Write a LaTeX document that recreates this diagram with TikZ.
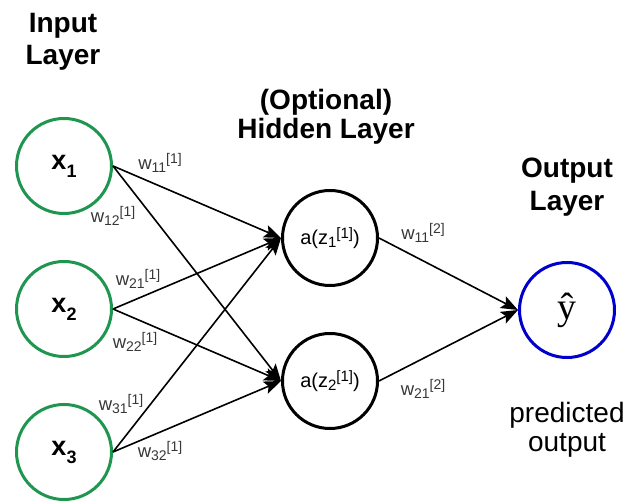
\documentclass[tikz,border=0pt]{standalone}
\usepackage{fontspec}
\setmainfont{Liberation Sans}
\newfontfamily\hatserif{Liberation Serif}
\usetikzlibrary{arrows.meta}
\definecolor{ingreen}{RGB}{30,150,80}
\definecolor{outblue}{RGB}{0,0,204}
\definecolor{wgray}{RGB}{55,55,55}
% weight label: w_{ij}^{[l]}
\newcommand\wlab[2]{w\raisebox{-3.5pt}{\fontsize{14}{14}\selectfont #1}\raisebox{5.5pt}{\fontsize{14}{14}\selectfont [#2]}}
% hidden activation label: a(z_i^{[1]})
\newcommand\alab[1]{a(z\raisebox{-3.5pt}{\fontsize{15}{15}\selectfont #1}\raisebox{6pt}{\fontsize{15}{15}\selectfont [1]})}
% input label: x_i
\newcommand\xlab[1]{x\raisebox{-8pt}{\fontsize{18}{18}\selectfont #1}}
\begin{document}
\begin{tikzpicture}[x=1pt,y=-1pt,
  neuron/.style={circle, minimum size=95pt, inner sep=0pt, line width=3pt, draw},
  inp/.style={neuron, draw=ingreen, font=\bfseries\fontsize{27}{27}\selectfont},
  hid/.style={neuron, draw=black, font=\fontsize{20}{20}\selectfont},
  outn/.style={neuron, draw=outblue, font=\hatserif\fontsize{38}{38}\selectfont},
  conn/.style={line width=1.6pt, -{Stealth[length=17pt,width=13pt,inset=3.5pt]}},
  wt/.style={text=wgray, font=\fontsize{18.5}{18.5}\selectfont, inner sep=0pt},
  title/.style={font=\bfseries\fontsize{28}{28}\selectfont, anchor=base, inner sep=0pt},
  caption/.style={font=\fontsize{28}{28}\selectfont, anchor=base, inner sep=0pt}]
\useasboundingbox (0,0) rectangle (627,502);

% layer titles
\node[title] (tin1) at (63,33) {Input};
\node[title] (tin2) at (63,65) {Layer};
\node[title] (thid1) at (326,110) {(Optional)};
\node[title] (thid2) at (326,139) {Hidden Layer};
\node[title] (tout1) at (567,178) {Output};
\node[title] (tout2) at (567,211) {Layer};
\node[caption] (cap1) at (567,423) {predicted};
\node[caption] (cap2) at (567,452) {output};

% neurons
\node[inp] (x1) at (64,166) {\xlab{1}};
\node[inp] (x2) at (64,309) {\xlab{2}};
\node[inp] (x3) at (64,452) {\xlab{3}};
\node[hid] (h1) at (330,238) {\alab{1}};
\node[hid] (h2) at (330,381) {\alab{2}};
\node[outn] (y) at (567,310) {ŷ};

% connections
\draw[conn] (x1.east) -- (h1.west);
\draw[conn] (x1.east) -- (h2.west);
\draw[conn] (x2.east) -- (h1.west);
\draw[conn] (x2.east) -- (h2.west);
\draw[conn] (x3.east) -- (h1.west);
\draw[conn] (x3.east) -- (h2.west);
\draw[conn] (h1.east) -- (y.west);
\draw[conn] (h2.east) -- (y.west);

% weights
\node[wt] (w11a) at (160,163) {\wlab{11}{1}};
\node[wt] (w12a) at (113,216) {\wlab{12}{1}};
\node[wt] (w21a) at (138,279) {\wlab{21}{1}};
\node[wt] (w22a) at (135,342) {\wlab{22}{1}};
\node[wt] (w31a) at (121,404) {\wlab{31}{1}};
\node[wt] (w32a) at (160,451) {\wlab{32}{1}};
\node[wt] (w11b) at (423,233) {\wlab{11}{2}};
\node[wt] (w21b) at (423,389) {\wlab{21}{2}};
\end{tikzpicture}
\end{document}
